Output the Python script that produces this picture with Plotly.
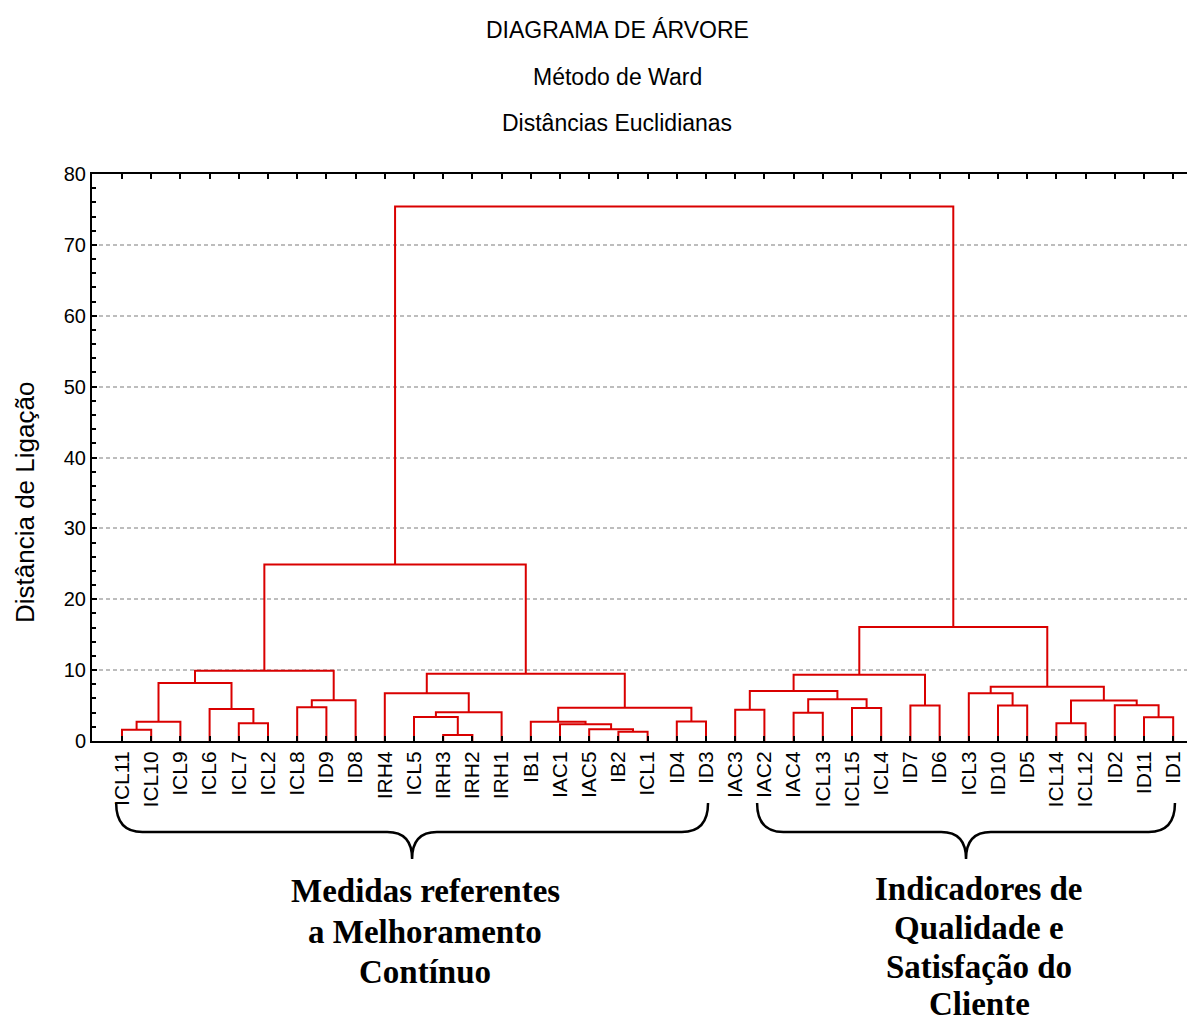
import plotly.graph_objects as go

# ---------------- data ----------------
leaf_labels = ["ICL11", "ICL10", "ICL9", "ICL6", "ICL7", "ICL2", "ICL8", "ID9", "ID8",
               "IRH4", "ICL5", "IRH3", "IRH2", "IRH1", "IB1", "IAC1", "IAC5", "IB2",
               "ICL1", "ID4", "ID3", "IAC3", "IAC2", "IAC4", "ICL13", "ICL15", "ICL4",
               "ID7", "ID6", "ICL3", "ID10", "ID5", "ICL14", "ICL12", "ID2", "ID11", "ID1"]

# merge k creates cluster "m{k}"
link_left = ["ICL11", "m0", "ICL7", "ICL6", "m1", "ICL8", "m5", "m4",
             "IRH3", "ICL5", "m9", "IRH4", "IB2", "IAC5", "IAC1", "IB1", "ID4", "m15", "m11", "m7",
             "IAC3", "IAC4", "ICL15", "m21", "m20", "ID7", "m24", "ID10", "ICL3", "ICL14",
             "ID11", "ID2", "m29", "m28", "m26", "m19"]
link_right = ["ICL10", "ICL9", "ICL2", "m2", "m3", "ID9", "ID8", "m6",
              "IRH2", "m8", "IRH1", "m10", "ICL1", "m12", "m13", "m14", "ID3", "m16", "m17", "m18",
              "IAC2", "ICL13", "ICL4", "m22", "m23", "ID6", "m25", "ID5", "m27", "ICL12",
              "ID1", "m30", "m31", "m32", "m33", "m34"]
link_height = [1.6, 2.7, 2.5, 4.5, 8.2, 4.75, 5.75, 9.9,
               0.85, 3.4, 4.05, 6.75, 1.3, 1.65, 2.35, 2.7, 2.75, 4.7, 9.5, 24.9,
               4.4, 4.0, 4.65, 5.9, 7.05, 5.0, 9.35, 5.0, 6.75, 2.5,
               3.35, 5.05, 5.7, 7.65, 16.1, 75.4]

title_lines = ["DIAGRAMA DE ÁRVORE", "Método de Ward", "Distâncias Euclidianas"]
y_title = "Distância de Ligação"
group_left_lines = ["Medidas referentes", "a Melhoramento", "Contínuo"]
group_right_lines = ["Indicadores de", "Qualidade e", "Satisfação do", "Cliente"]
group_left_span = ("ICL11", "ID3")
group_right_span = ("IAC2", "ID1")

# ---------------- layout geometry (page pixels, body margin = 8) ----------------
OFF = 8
W, H = 1195 - OFF, 1026 - OFF
ML, MR, MT = 92 - OFF, 0, 174 - OFF
MB = H - (741 - OFF)
PW, PH = W - ML - MR, H - MT - MB


def px(x):
    return (x - OFF - ML) / PW


def py(y):
    return (H - MB - (y - OFF)) / PH


# ---------------- dendrogram coordinates ----------------
pos = {name: float(i) for i, name in enumerate(leaf_labels)}
hgt = {name: 0.0 for name in leaf_labels}
xs, ys = [], []
for k, (a, b, h) in enumerate(zip(link_left, link_right, link_height)):
    xa, xb = pos[a], pos[b]
    xs += [xa, xa, xb, xb, None]
    ys += [hgt[a], h, h, hgt[b], None]
    pos[f"m{k}"] = (xa + xb) / 2
    hgt[f"m{k}"] = h

RED = "#d90000"
fig = go.Figure()
fig.add_trace(go.Scatter(x=xs, y=ys, mode="lines",
                         line=dict(color=RED, width=2), hoverinfo="skip",
                         showlegend=False))

n = len(leaf_labels)
unit = 29.2  # px per leaf
x_lo = -(122 - 92) / unit
x_hi = x_lo + PW / unit

FONT = "Liberation Sans, Arial, sans-serif"
SERIF = "Liberation Serif, Times New Roman, serif"

fig.update_layout(
    width=W, height=H,
    margin=dict(l=ML, r=MR, t=MT, b=MB),
    plot_bgcolor="white", paper_bgcolor="white",
    font=dict(family=FONT, color="black", size=20),
    xaxis=dict(range=[x_lo, x_hi], tickmode="array",
               tickvals=list(range(n)), ticktext=leaf_labels,
               tickangle=-90, ticks="inside", ticklen=5, tickwidth=2,
               tickcolor="black", showline=True, linecolor="black",
               linewidth=2, mirror="ticks", showgrid=False, zeroline=False,
               tickfont=dict(size=21, family=FONT)),
    yaxis=dict(range=[0, 80], tickmode="array",
               tickvals=list(range(0, 81, 10)),
               ticks="inside", ticklen=5, tickwidth=2, tickcolor="black",
               minor=dict(tickmode="linear", dtick=2, ticks="inside",
                          ticklen=4, tickwidth=2, tickcolor="black",
                          showgrid=False),
               showline=True, linecolor="black", linewidth=2,
               showgrid=True, gridcolor="#bdbdbd", gridwidth=2,
               griddash="4px,3px", zeroline=False,
               tickfont=dict(size=20, family=FONT)),
)

# titles
for txt, yc in zip(title_lines, [30, 77, 123]):
    fig.add_annotation(text=txt, xref="paper", yref="paper",
                       x=px(617), y=py(yc), xanchor="center", yanchor="middle",
                       showarrow=False, font=dict(size=23, family=FONT))

# y-axis title
fig.add_annotation(text=y_title, xref="paper", yref="paper",
                   x=px(25), y=py(503), xanchor="center", yanchor="middle",
                   textangle=-90, showarrow=False,
                   font=dict(size=26, family=FONT))


# braces
def brace(x0, x1, xm, y_top, y_mid, y_tip, r=0.9, r2=0.85):
    return (f"M {x0},{y_top} Q {x0},{y_mid} {x0 + r},{y_mid} "
            f"L {xm - r2},{y_mid} Q {xm},{y_mid} {xm},{y_tip} "
            f"Q {xm},{y_mid} {xm + r2},{y_mid} "
            f"L {x1 - r},{y_mid} Q {x1},{y_mid} {x1},{y_top}")


yt, ym, yp = py(803), py(832), py(859)
lx0 = pos[group_left_span[0]] - 0.2
lx1 = pos[group_left_span[1]] + 0.07
rx0 = pos[group_right_span[0]] - 0.25
rx1 = pos[group_right_span[1]] + 0.06
fig.add_shape(type="path", xref="x", yref="paper",
              path=brace(lx0, lx1, (lx0 + lx1) / 2, yt, ym, yp),
              line=dict(color="black", width=2.5))
fig.add_shape(type="path", xref="x", yref="paper",
              path=brace(rx0, rx1, (rx0 + rx1) / 2, yt, ym, yp),
              line=dict(color="black", width=2.5))

# group labels
for txt, yc in zip(group_left_lines, [891, 932, 972]):
    fig.add_annotation(text=f"<b>{txt}</b>", xref="paper", yref="paper",
                       x=px(425), y=py(yc), xanchor="center", yanchor="middle",
                       showarrow=False, font=dict(size=33, family=SERIF))
for txt, yc in zip(group_right_lines, [889, 928, 967, 1004]):
    fig.add_annotation(text=f"<b>{txt}</b>", xref="paper", yref="paper",
                       x=px(979), y=py(yc), xanchor="center", yanchor="middle",
                       showarrow=False, font=dict(size=33, family=SERIF))

fig.write_html("out.html")
